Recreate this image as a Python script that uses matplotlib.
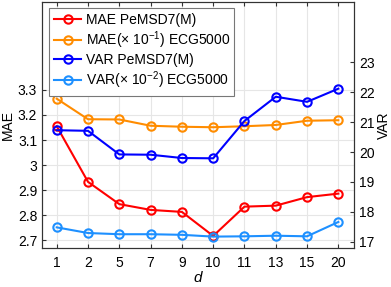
import matplotlib
matplotlib.use("Agg")
from matplotlib import pyplot as plt
import numpy as np

plt.rcParams['font.family'] = ['Liberation Sans', 'DejaVu Sans']
plt.rcParams['mathtext.fontset'] = 'custom'
plt.rcParams['mathtext.rm'] = 'Liberation Sans'
plt.rcParams['mathtext.it'] = 'Liberation Sans:italic'

d_labels = ['1', '2', '5', '7', '9', '10', '11', '13', '15', '20']
mae_pems = [3.155, 2.933, 2.844, 2.821, 2.813, 2.717, 2.834, 2.838, 2.872, 2.886]
mae_ecg = [3.265, 3.183, 3.182, 3.157, 3.153, 3.151, 3.155, 3.160, 3.177, 3.179]
var_pems = [20.73, 20.71, 19.92, 19.91, 19.80, 19.79, 21.04, 21.85, 21.68, 22.12]
var_ecg = [17.48, 17.29, 17.25, 17.25, 17.23, 17.17, 17.18, 17.20, 17.18, 17.66]

x = np.arange(len(d_labels))

fig = plt.figure(figsize=(3.91, 2.87), dpi=100)
ax = fig.add_axes([0.1074, 0.136, 0.798, 0.857])
ax2 = ax.twinx()

style = dict(marker='o', markersize=6, markerfacecolor='none', markeredgewidth=1.5, linewidth=1.5)
l1, = ax.plot(x, mae_pems, color='#ff0000', label='MAE PeMSD7(M)', **style)
l2, = ax.plot(x, mae_ecg, color='#ff8c00', label=r'MAE($\times$ 10$^{-1}$) ECG5000', **style)
l3, = ax2.plot(x, var_pems, color='#0000ff', label='VAR PeMSD7(M)', **style)
l4, = ax2.plot(x, var_ecg, color='#1e90ff', label=r'VAR($\times$ 10$^{-2}$) ECG5000', **style)

ax.set_xlim(-0.47, 9.5)
ax.set_ylim(2.669, 3.651)
ax2.set_ylim(16.79, 25.02)
ax.set_xticks(x)
ax.set_xticklabels(d_labels)
ax.set_yticks([2.7, 2.8, 2.9, 3.0, 3.1, 3.2, 3.3])
ax.set_yticklabels(['2.7', '2.8', '2.9', '3', '3.1', '3.2', '3.3'])
ax2.set_yticks([17, 18, 19, 20, 21, 22, 23])

ax.grid(True, color='#e6e6e6', linewidth=0.8)
ax.set_axisbelow(True)

ax.tick_params(axis='both', direction='in', labelsize=10, length=3, color='#333333', top=True)
ax.tick_params(axis='x', pad=6)
ax2.tick_params(axis='y', direction='in', labelsize=10, length=3, color='#333333')
for a in (ax, ax2):
    for s in a.spines.values():
        s.set_color('#333333')
        s.set_linewidth(0.8)

ax.set_xlabel('$d$', fontsize=11, labelpad=0)
ax.set_ylabel('MAE', fontsize=10, labelpad=2)
ax2.set_ylabel('VAR', fontsize=10, labelpad=1.5)

leg = ax2.legend(handles=[l1, l2, l3, l4], loc='upper left', bbox_to_anchor=(0.015, 0.985),
                 fontsize=10, frameon=True, fancybox=False, edgecolor='#777777',
                 framealpha=1, handlelength=2.0, handletextpad=0.3, borderpad=0.3,
                 labelspacing=0.18, borderaxespad=0.2)
leg.get_frame().set_linewidth(0.8)

fig.savefig('out.png', dpi=100)
